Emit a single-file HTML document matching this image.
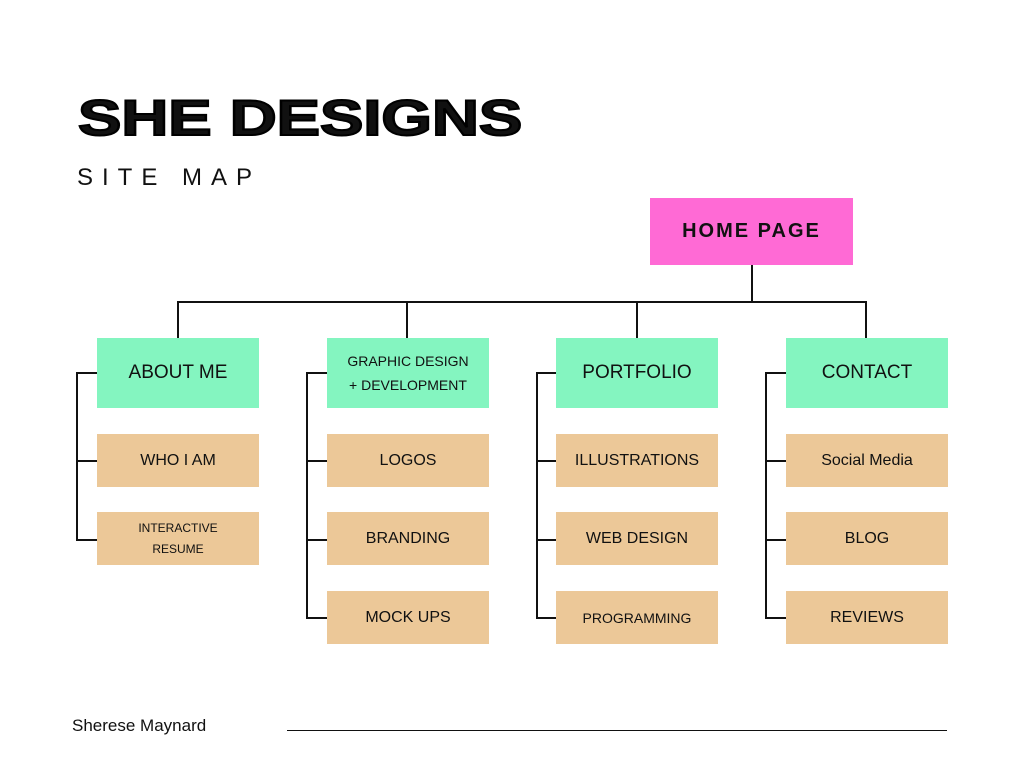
<!DOCTYPE html>
<html><head><style>
body{margin:0;width:1024px;height:768px;background:#fff;position:relative;overflow:hidden;font-family:"Liberation Sans",sans-serif;color:#111}
.a{position:absolute}
.b{position:absolute;display:flex;align-items:center;justify-content:center;text-align:center;width:162px}
.g{background:#84f5c0;height:70px;font-size:19px;top:338px}
.t{background:#ecc898;height:53px;font-size:16px}
.l{position:absolute;background:#111}
</style></head><body>
<div class="a" style="left:78px;top:93px;font-size:50px;line-height:50px;font-weight:900;transform:scaleX(1.3);transform-origin:left;-webkit-text-stroke:2px #000">SHE DESIGNS</div>
<div class="a" style="left:77px;top:164px;font-size:24px;letter-spacing:9px">SITE MAP</div>
<div class="b" style="left:650px;top:198px;width:203px;height:67px;background:#ff6ad5;font-size:20px;font-weight:bold;letter-spacing:2px">HOME PAGE</div>
<div class="l" style="left:751px;top:265px;width:2px;height:38px"></div>
<div class="l" style="left:177px;top:301px;width:690px;height:2px"></div>
<div class="l" style="left:177px;top:301px;width:2px;height:37px"></div>
<div class="l" style="left:406px;top:301px;width:2px;height:37px"></div>
<div class="l" style="left:636px;top:301px;width:2px;height:37px"></div>
<div class="l" style="left:865px;top:301px;width:2px;height:37px"></div>
<div class="l" style="left:76px;top:372px;width:2px;height:168px"></div>
<div class="l" style="left:306px;top:372px;width:2px;height:247px"></div>
<div class="l" style="left:536px;top:372px;width:2px;height:247px"></div>
<div class="l" style="left:765px;top:372px;width:2px;height:247px"></div>
<div class="l" style="left:76px;top:372px;width:21px;height:2px"></div>
<div class="l" style="left:76px;top:460px;width:21px;height:2px"></div>
<div class="l" style="left:76px;top:539px;width:21px;height:2px"></div>
<div class="l" style="left:306px;top:372px;width:21px;height:2px"></div>
<div class="l" style="left:306px;top:460px;width:21px;height:2px"></div>
<div class="l" style="left:306px;top:539px;width:21px;height:2px"></div>
<div class="l" style="left:306px;top:617px;width:21px;height:2px"></div>
<div class="l" style="left:536px;top:372px;width:21px;height:2px"></div>
<div class="l" style="left:536px;top:460px;width:21px;height:2px"></div>
<div class="l" style="left:536px;top:539px;width:21px;height:2px"></div>
<div class="l" style="left:536px;top:617px;width:21px;height:2px"></div>
<div class="l" style="left:765px;top:372px;width:21px;height:2px"></div>
<div class="l" style="left:765px;top:460px;width:21px;height:2px"></div>
<div class="l" style="left:765px;top:539px;width:21px;height:2px"></div>
<div class="l" style="left:765px;top:617px;width:21px;height:2px"></div>
<div class="b g" style="left:97px">ABOUT ME</div>
<div class="b g" style="left:327px;font-size:14px;line-height:24px">GRAPHIC DESIGN<br>+ DEVELOPMENT</div>
<div class="b g" style="left:556px">PORTFOLIO</div>
<div class="b g" style="left:786px">CONTACT</div>
<div class="b t" style="left:97px;top:434px">WHO I AM</div>
<div class="b t" style="left:97px;top:512px;font-size:12px;line-height:21px">INTERACTIVE<br>RESUME</div>
<div class="b t" style="left:327px;top:434px">LOGOS</div>
<div class="b t" style="left:327px;top:512px">BRANDING</div>
<div class="b t" style="left:327px;top:591px">MOCK UPS</div>
<div class="b t" style="left:556px;top:434px">ILLUSTRATIONS</div>
<div class="b t" style="left:556px;top:512px">WEB DESIGN</div>
<div class="b t" style="left:556px;top:591px;font-size:14px">PROGRAMMING</div>
<div class="b t" style="left:786px;top:434px">Social Media</div>
<div class="b t" style="left:786px;top:512px">BLOG</div>
<div class="b t" style="left:786px;top:591px">REVIEWS</div>
<div class="a" style="left:72px;top:716px;font-size:17px">Sherese Maynard</div>
<div class="l" style="left:287px;top:730px;width:660px;height:1px"></div>
</body></html>
